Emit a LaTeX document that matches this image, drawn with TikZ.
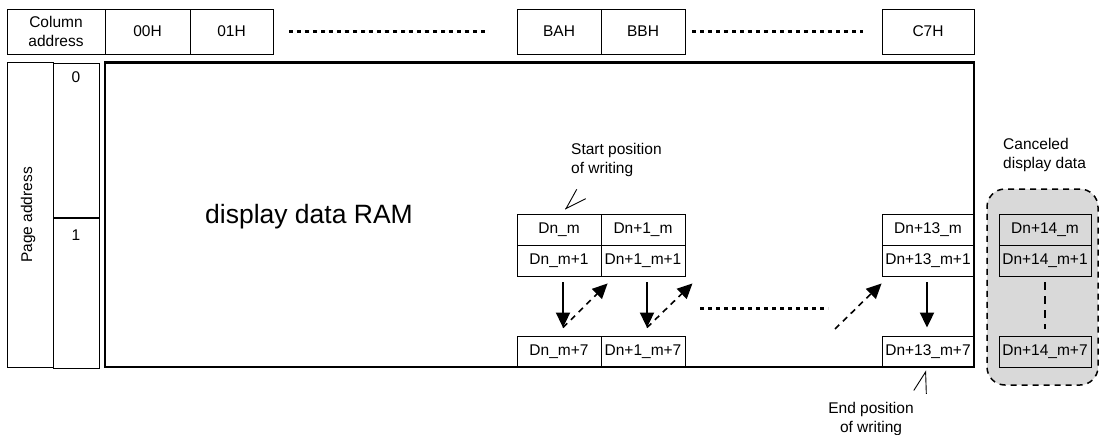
\documentclass[tikz,border=0pt]{standalone}
\usepackage{fontspec}
\setmainfont{Liberation Sans}
\usetikzlibrary{arrows.meta,calc}
\definecolor{cancelgray}{RGB}{217,217,217}
\newcommand{\lblfont}{\fontsize{15.5}{18.5}\selectfont}
\newcommand{\ramfont}{\fontsize{26.5}{30}\selectfont}
\tikzset{
  box/.style={draw, line width=0.9pt, inner sep=0pt, font=\lblfont},
  cell/.style={box, minimum width=#1, minimum height=31pt},
  cell/.default=84pt,
  head/.style={box, minimum width=#1, minimum height=45pt},
  head/.default=84pt,
  txt/.style={inner sep=0pt, font=\lblfont},
  dotline/.style={line width=3pt, dash pattern=on 4pt off 4pt},
  downarrow/.style={line width=2pt, -{Triangle[length=15pt,width=14pt]}},
  dasharrow/.style={line width=1.6pt, dash pattern=on 6pt off 5pt, -{Triangle[length=15pt,width=14pt]}},
  notearrow/.style={line width=0.9pt, shorten <=20pt, -{Straight Barb[length=21pt, width=13pt]}},
}
\begin{document}
\begin{tikzpicture}[x=1pt, y=-1pt]
\useasboundingbox (0,0) rectangle (1102,434);

\node (hcol)[head=98pt, align=center] at (56,31.5) {Column\\address};
\node (h00)[head=85pt] at (147.5,31.5) {00H};
\node (h01)[head=83pt] at (231.5,31.5) {01H};
\node (hBA)[head] at (559,31.5) {BAH};
\node (hBB)[head] at (643,31.5) {BBH};
\node (hC7)[head=92pt] at (928,31.5) {C7H};
\draw [dotline, shorten <=16pt, shorten >=29pt](h01) -- (hBA);
\draw [dotline, shorten <=7pt, shorten >=19pt](hBB) -- (hC7);

\node (pg)[box, minimum width=46pt, minimum height=304.5pt] at (30,214.75) {};
\node (pgtxt)[txt, rotate=90] at (28,215) {Page address};
\node (p0)[box, minimum width=46pt, minimum height=154.5pt, anchor=north west] at (53,62.5) {};
\node (p1)[box, minimum width=46pt, minimum height=150pt, anchor=north west] at (p0.south west) {};
\node (p0txt)[txt] at (76,77) {0};
\node (p1txt)[txt] at (76,235) {1};

\node (ram)[draw, line width=2.4pt, minimum width=869pt, minimum height=304.5pt] at (539.5,214.75) {};
\node (ramtxt)[inner sep=0pt, font=\ramfont] at (309,217) {display data RAM};

\node (c0a)[cell] at (559,229.5) {Dn\_m};
\node (c0b)[cell] at (559,260.5) {Dn\_m+1};
\node (c0h)[cell] at (559,351.5) {Dn\_m+7};
\node (c1a)[cell] at (643,229.5) {Dn+1\_m};
\node (c1b)[cell] at (643,260.5) {Dn+1\_m+1};
\node (c1h)[cell] at (643,351.5) {Dn+1\_m+7};
\node (c13a)[cell=92pt] at (928,229.5) {Dn+13\_m};
\node (c13b)[cell=92pt] at (928,260.5) {Dn+13\_m+1};
\node (c13h)[cell=92pt] at (928,351.5) {Dn+13\_m+7};

\node (cancel)[draw, line width=1.5pt, dash pattern=on 6pt off 5pt, fill=cancelgray, rounded corners=18pt, minimum width=111pt, minimum height=196pt] at (1042.5,287) {};
\node (canceltxt)[txt, align=left, anchor=west] at (1003,155) {Canceled\\display data};
\node (c14a)[cell=92pt, fill=cancelgray] at (1045,229.5) {Dn+14\_m};
\node (c14b)[cell=92pt, fill=cancelgray] at (1045,260.5) {Dn+14\_m+1};
\node (c14h)[cell=92pt, fill=cancelgray] at (1045,351.5) {Dn+14\_m+7};
\draw [line width=1.5pt, dash pattern=on 8pt off 6pt, shorten <=6pt, shorten >=7pt](c14b) -- (c14h);

\draw [downarrow, shorten <=6pt, shorten >=8pt]([xshift=4pt]c0b.south) -- ([xshift=4pt]c0h.north);
\draw [downarrow, shorten <=6pt, shorten >=8pt]([xshift=4pt]c1b.south) -- ([xshift=4pt]c1h.north);
\draw [downarrow, shorten <=6pt, shorten >=8pt]([xshift=-1pt]c13b.south) -- ([xshift=-1pt]c13h.north);
\draw [dasharrow]($(c0h.north)+(4,-8)$) -- ($(c1b.south west)+(7,7)$);
\draw [dasharrow]($(c1h.north)+(4,-8)$) -- ($(c1b.south east)+(7,7)$);
\coordinate (dstart) at (835,329);
\draw [dasharrow](dstart) -- ($(c13b.south west)+(0,7)$);
\coordinate (dotL) at (700,308);
\coordinate (dotR) at (828,308);
\draw [dotline](dotL) -- (dotR);

\node (starttxt)[txt, align=left, anchor=west] at (571,160) {Start position\\of writing};
\draw [notearrow]($(starttxt.south west)+(9,18.5)$) -- ($(c0a.north)+(6,-4)$);
\node (endtxt)[txt, align=center] at (871,419) {End position\\of writing};
\draw [notearrow]($(endtxt.north)+(49,-10)$) -- ($(c13h.south)+(-2,3)$);
\end{tikzpicture}
\end{document}
